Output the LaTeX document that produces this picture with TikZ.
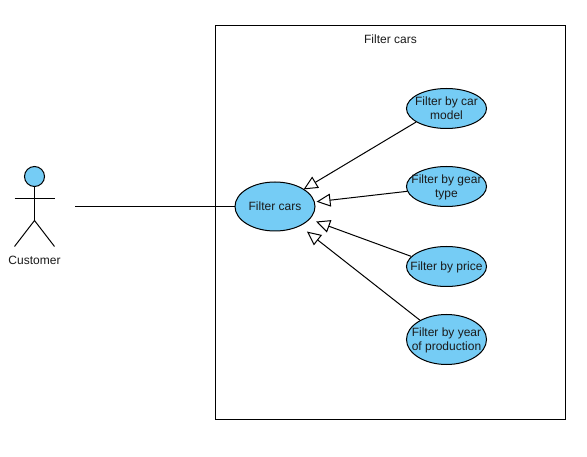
\documentclass[tikz,border=0pt]{standalone}
\usepackage{fontspec}
\setmainfont{Liberation Sans}
\usetikzlibrary{arrows.meta,shapes.geometric}
\definecolor{ucfill}{HTML}{75CCF5}
\definecolor{uctext}{HTML}{1A1A1A}
\newcommand{\uctxt}[1]{\makebox[0pt]{\raisebox{-4pt}[0pt][0pt]{\renewcommand{\arraystretch}{1.07}\begin{tabular}{@{}c@{}}#1\end{tabular}}}}
\tikzset{
  x=1pt,y=-1pt,
  usecase/.style={ellipse,draw=black,line width=1pt,fill=ucfill,inner sep=0pt,
    minimum width=80pt,text=uctext,font=\fontsize{12}{14}\selectfont},
  gen/.style={line width=1pt,-{Triangle[open,fill=white,length=14pt,width=13pt]}},
  plain/.style={line width=1pt},
  lbl/.style={text=uctext,font=\fontsize{12}{15}\selectfont,inner sep=0pt}
}
\begin{document}
\begin{tikzpicture}
\useasboundingbox (0,0) rectangle (587,457);
\fill[white] (0,0) rectangle (587,457);
\node[draw=black,line width=1pt,fill=white,minimum width=350pt,minimum height=393.5pt,inner sep=0pt] (system) at (390.5,222.25) {};
\node[lbl] (systitle) at (390.5,39) {Filter cars};
\node[usecase,minimum height=49pt] (main) at (275,206.5) {\uctxt{Filter cars}};
\node[usecase,minimum height=40pt] (model) at (446.5,108.5) {\uctxt{Filter by car\\model}};
\node[usecase,minimum height=40pt] (gear) at (446.5,186.5) {\uctxt{Filter by gear\\type}};
\node[usecase,minimum height=40pt] (price) at (446.5,266.5) {\uctxt{Filter by price}};
\node[usecase,minimum height=50pt] (year) at (446.5,339.5) {\uctxt{Filter by year\\of production}};
\draw[gen,shorten >=33.3pt] (model.204) -- (main.center);
\draw[gen,shorten >=41.8pt] (gear.187) -- (main.center);
\draw[gen,shorten >=43.7pt] (price.164) -- (main.center);
\draw[gen,shorten >=40.6pt] (year.144) -- (main.center);
% actor
\node[circle,draw=black,line width=1pt,fill=ucfill,minimum size=20pt,inner sep=0pt] (head) at (34.5,176.5) {};
\coordinate (hip) at (34.5,220.5);
\coordinate (armL) at (14.5,198.5);
\coordinate (armR) at (54.5,198.5);
\coordinate (footL) at (14.5,246.5);
\coordinate (footR) at (54.5,246.5);
\draw[plain] (head.south) -- (hip);
\draw[plain] (armL) -- (armR);
\draw[plain] (footL) -- (hip) -- (footR);
\node[lbl] (customer) at (34.5,260) {Customer};
\coordinate (actorEnd) at (75,206.5);
\draw[plain] (actorEnd) -- (main.west);
\end{tikzpicture}
\end{document}
